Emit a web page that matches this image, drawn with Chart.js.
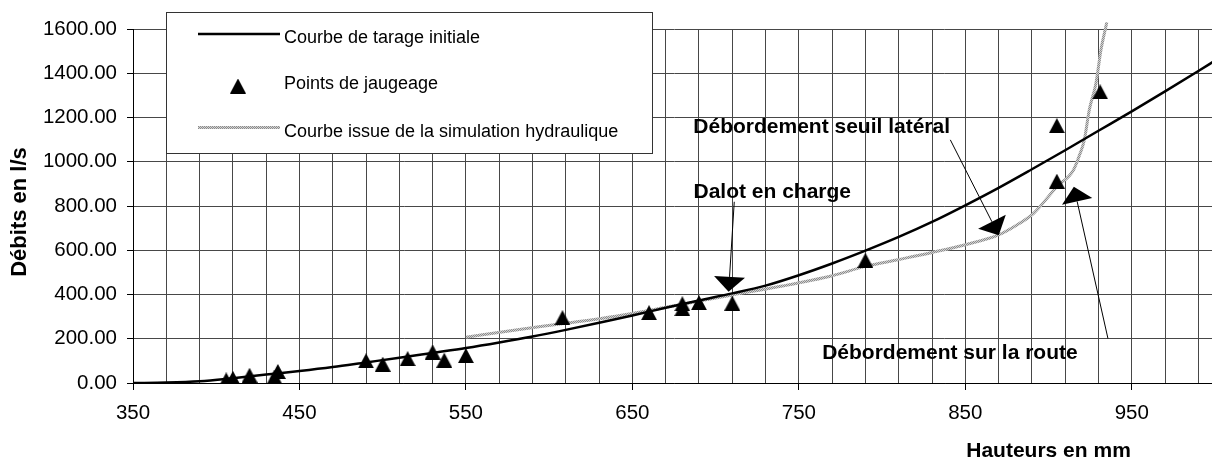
<!DOCTYPE html>
<html>
<head>
<meta charset="utf-8">
<script src="https://cdn.jsdelivr.net/npm/chart.js@4.4.1/dist/chart.umd.min.js"></script>
<style>
  html, body { margin: 0; padding: 0; overflow: hidden; background: #fff; }
  canvas { display: block; }
</style>
</head>
<body>
<canvas id="tarage" width="1215" height="457"></canvas>
<script>
// Courbe de tarage initiale : hauteur (mm) -> débit (l/s)
const tarageH = [350, 370, 390, 410, 430, 450, 470, 490, 510, 530, 550, 570, 590, 610, 630, 650, 670, 690, 710, 730, 750, 770, 790, 810, 830, 850, 870, 890, 910, 930, 950, 970, 990, 1000];
const tarageQ = [0, 2, 8, 22, 38, 54, 72, 93, 114, 136, 158, 183, 210, 240, 272, 305, 340, 373, 405, 440, 487, 540, 598, 660, 728, 803, 882, 966, 1052, 1140, 1228, 1318, 1410, 1457];

// Points de jaugeage
const jaugeH = [406, 410, 420, 435, 437, 490, 500, 515, 530, 537, 550, 608, 660, 680, 680, 690, 710, 790, 905, 905, 931];
const jaugeQ = [14, 21, 35, 27, 52, 100, 85, 110, 140, 103, 124, 295, 318, 358, 336, 363, 361, 554, 912, 1163, 1316];

// Courbe issue de la simulation hydraulique
const simH = [550, 580, 610, 640, 670, 690, 710, 740, 770, 790, 810, 830, 850, 870, 880, 891, 905, 915, 919, 921.5, 924.5, 928.5, 931.5, 935];
const simQ = [207, 240, 270, 302, 342, 370, 398, 438, 485, 527, 558, 590, 625, 670, 710, 767, 887, 963, 1038, 1099, 1235, 1355, 1506, 1630];

// Libellés
const seriesLabels = ['Courbe de tarage initiale', 'Points de jaugeage', 'Courbe issue de la simulation hydraulique'];
const xTitle = 'Hauteurs en mm';
const yTitle = 'Débits en l/s';
const xLabelValues = [350, 450, 550, 650, 750, 850, 950];
const yTickValues = [0, 200, 400, 600, 800, 1000, 1200, 1400, 1600];

// Commentaires fléchés (texte placé en hauteur/débit, flèche de -> vers)
const noteTexts = ['Débordement seuil latéral', 'Dalot en charge', 'Débordement sur la route'];
const noteH = [686.6, 686.7, 764];
const noteQ = [1129, 835, 110];
const arrowFromH = [841, 711.2, 935.7];
const arrowFromQ = [1099, 819, 201];
const arrowToH = [870.1, 707.8, 915.2];
const arrowToQ = [668, 412, 887];

const FONT = '"Liberation Sans", Arial, sans-serif';
const GRID = '#474747';

// vertical grid every 20 mm between the axis bounds
const xGridValues = [];
for (let v = 350; v <= 1000; v += 20) xGridValues.push(v);

function pairs(xs, ys) { return xs.map((v, i) => ({ x: v, y: ys[i] })); }

// filled triangle used as the gauging marker
function triangleMarker(w, h) {
  const c = document.createElement('canvas');
  c.width = w; c.height = h;
  const g = c.getContext('2d');
  g.fillStyle = '#000';
  g.beginPath();
  g.moveTo(w / 2, 0);
  g.lineTo(w, h);
  g.lineTo(0, h);
  g.closePath();
  g.fill();
  return c;
}

// speckled grey stroke for the simulated curve
function speckle(ctx) {
  const c = document.createElement('canvas');
  c.width = 2; c.height = 2;
  const g = c.getContext('2d');
  g.fillStyle = '#d2d2d2'; g.fillRect(0, 0, 2, 2);
  g.fillStyle = '#8c8c8c'; g.fillRect(0, 0, 1, 1); g.fillRect(1, 1, 1, 1);
  return ctx.createPattern(c, 'repeat');
}

const canvas = document.getElementById('tarage');
const ctx0 = canvas.getContext('2d');
const marker = triangleMarker(16, 15);
const greyStroke = speckle(ctx0);

const notesPlugin = {
  id: 'notes',
  afterDatasetsDraw(chart) {
    const { ctx, chartArea: a, scales: { x, y } } = chart;
    ctx.save();
    ctx.fillStyle = '#000';
    ctx.strokeStyle = '#000';
    ctx.font = 'bold 21px ' + FONT;
    ctx.textAlign = 'left';
    ctx.textBaseline = 'alphabetic';
    noteTexts.forEach((t, i) => {
      ctx.fillText(t, x.getPixelForValue(noteH[i]), y.getPixelForValue(noteQ[i]));
    });
    arrowFromH.forEach((h, i) => {
      const x0 = x.getPixelForValue(h), y0 = y.getPixelForValue(arrowFromQ[i]);
      const x1 = x.getPixelForValue(arrowToH[i]), y1 = y.getPixelForValue(arrowToQ[i]);
      const dx = x1 - x0, dy = y1 - y0, len = Math.hypot(dx, dy);
      const ux = dx / len, uy = dy / len;
      const headLen = 15, headHalf = 15.5;
      const bx = x1 - ux * headLen, by = y1 - uy * headLen;
      ctx.lineWidth = 1;
      ctx.beginPath();
      ctx.moveTo(x0, y0);
      ctx.lineTo(bx, by);
      ctx.stroke();
      ctx.beginPath();
      ctx.moveTo(x1, y1);
      ctx.lineTo(bx - uy * headHalf, by + ux * headHalf);
      ctx.lineTo(bx + uy * headHalf, by - ux * headHalf);
      ctx.closePath();
      ctx.fill();
    });
    // x axis title, centred on 900 mm
    ctx.textAlign = 'center';
    ctx.fillText(xTitle, x.getPixelForValue(900), a.bottom + 73.5);
    // y axis title, rotated
    ctx.font = 'bold 22px ' + FONT;
    ctx.textBaseline = 'middle';
    ctx.translate(19.5, (a.top + a.bottom) / 2 + 6);
    ctx.rotate(-Math.PI / 2);
    ctx.fillText(yTitle, 0, 0);
    ctx.restore();
  }
};

const boxLegend = {
  id: 'boxLegend',
  afterDraw(chart) {
    const { ctx, chartArea: a } = chart;
    const ds = chart.data.datasets;
    const left = a.left + 33, top = a.top - 17, w = 486, h = 141;
    ctx.save();
    ctx.fillStyle = '#fff';
    ctx.fillRect(left, top, w, h);
    ctx.strokeStyle = '#333';
    ctx.lineWidth = 1;
    ctx.strokeRect(left + 0.5, top + 0.5, w, h);
    ctx.font = '18px ' + FONT;
    ctx.fillStyle = '#000';
    ctx.textAlign = 'left';
    ctx.textBaseline = 'alphabetic';
    const rows = [
      { d: ds[0], sy: top + 22, ty: top + 30.7 },
      { d: ds[1], sy: top + 74, ty: top + 77.3 },
      { d: ds[2], sy: top + 115.5, ty: top + 124.7 }
    ];
    rows.forEach(r => {
      if (r.d.showLine) {
        ctx.strokeStyle = r.d.borderColor;
        ctx.lineWidth = r.d.borderWidth;
        ctx.beginPath();
        ctx.moveTo(left + 32, r.sy);
        ctx.lineTo(left + 114, r.sy);
        ctx.stroke();
      } else {
        ctx.drawImage(marker, left + 72 - marker.width / 2, r.sy - marker.height / 2);
      }
      ctx.fillStyle = '#000';
      ctx.fillText(r.d.label, left + 118, r.ty);
    });
    ctx.restore();
  }
};

new Chart(canvas, {
  type: 'scatter',
  data: {
    datasets: [
      {
        label: seriesLabels[0],
        data: pairs(tarageH, tarageQ),
        showLine: true,
        borderColor: '#000',
        borderWidth: 2.5,
        pointRadius: 0,
        cubicInterpolationMode: 'monotone',
        order: 1
      },
      {
        label: seriesLabels[1],
        data: pairs(jaugeH, jaugeQ),
        showLine: false,
        pointStyle: marker,
        pointRadius: 8,
        backgroundColor: '#000',
        borderColor: '#000',
        order: 0
      },
      {
        label: seriesLabels[2],
        data: pairs(simH, simQ),
        showLine: true,
        borderColor: greyStroke,
        borderWidth: 3,
        pointRadius: 0,
        cubicInterpolationMode: 'monotone',
        clip: false,
        order: 2
      }
    ]
  },
  options: {
    responsive: false,
    devicePixelRatio: 1,
    animation: false,
    events: [],
    layout: { autoPadding: false, padding: { top: 29, right: 0, bottom: 0, left: 0 } },
    plugins: { legend: { display: false }, tooltip: { enabled: false } },
    scales: {
      x: {
        type: 'linear',
        min: 350,
        max: 1000,
        afterBuildTicks: axis => { axis.ticks = xGridValues.map(v => ({ value: v })); },
        afterFit: s => { s.height = 74; },
        ticks: {
          autoSkip: false,
          maxRotation: 0,
          padding: 11,
          color: '#000',
          font: { family: FONT, size: 20.5 },
          callback: v => (xLabelValues.includes(v) ? String(v) : '')
        },
        grid: {
          color: GRID,
          lineWidth: 1,
          tickLength: 7,
          tickColor: c => (c.tick && xLabelValues.includes(c.tick.value) ? '#000' : 'rgba(0,0,0,0)')
        },
        border: { display: true, color: '#000', width: 1 }
      },
      y: {
        type: 'linear',
        min: 0,
        max: 1600,
        afterBuildTicks: axis => { axis.ticks = yTickValues.map(v => ({ value: v })); },
        afterFit: s => { s.width = 133; },
        ticks: {
          padding: 10,
          color: '#000',
          font: { family: FONT, size: 20.5 },
          callback: v => Number(v).toFixed(2)
        },
        grid: { color: GRID, lineWidth: 1, tickLength: 6, tickColor: '#000' },
        border: { display: true, color: '#000', width: 1 }
      }
    }
  },
  plugins: [notesPlugin, boxLegend]
});
</script>
</body>
</html>
